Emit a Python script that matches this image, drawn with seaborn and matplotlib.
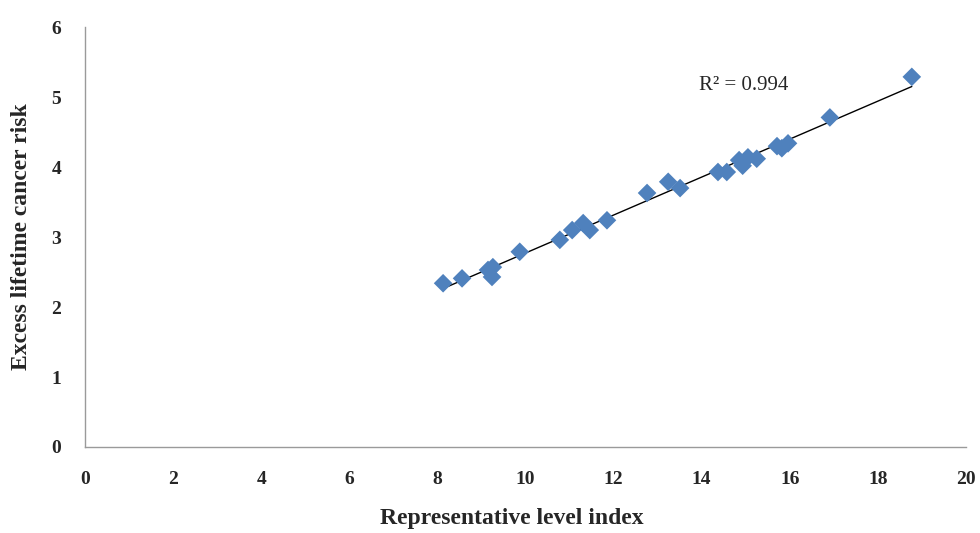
import numpy as np
import pandas as pd
import matplotlib
matplotlib.use("Agg")
import matplotlib.pyplot as plt
import seaborn as sns

# Values
level_index = [8.13, 8.56, 9.15, 9.24, 9.26, 9.87, 10.78, 11.06, 11.31, 11.46, 11.85,
               12.76, 13.24, 13.51, 14.37, 14.57, 14.85, 14.93, 15.05, 15.25,
               15.71, 15.82, 15.96, 16.91, 18.77]
cancer_risk = [2.34, 2.41, 2.53, 2.43, 2.57, 2.79, 2.96, 3.10, 3.20, 3.10, 3.24,
               3.63, 3.79, 3.70, 3.93, 3.93, 4.10, 4.02, 4.14, 4.12,
               4.30, 4.27, 4.34, 4.71, 5.29]
x_ticks = [0, 2, 4, 6, 8, 10, 12, 14, 16, 18, 20]
y_ticks = [0, 1, 2, 3, 4, 5, 6]
r2_label = "R² = 0.994"

df = pd.DataFrame({"x": level_index, "y": cancer_risk})

sns.set_style("white")
plt.rcParams['font.family'] = ['Liberation Serif', 'DejaVu Serif']

fig = plt.figure(figsize=(9.8, 5.33), dpi=100)
ax = fig.add_axes([0.0867, 0.1614, 0.899, 0.7876])

# trend line (linear fit between min and max x)
sns.regplot(data=df, x="x", y="y", ci=None, scatter=False, truncate=True,
            line_kws={"color": "black", "lw": 1}, ax=ax)
sns.scatterplot(data=df, x="x", y="y", marker="D", s=90, color="#4F81BD",
                edgecolor="none", ax=ax, zorder=3)

ax.text(14.95, 5.16, r2_label, fontsize=15, ha="center", va="center")

ax.set_xlim(0, 20)
ax.set_ylim(0, 6)
ax.set_xticks(x_ticks)
ax.set_yticks(y_ticks)
ax.tick_params(length=0, labelsize=14)
ax.tick_params(axis="x", pad=17)
ax.tick_params(axis="y", pad=17)
for lab in ax.get_xticklabels() + ax.get_yticklabels():
    lab.set_fontweight("bold")

ax.set_xlabel("Representative level index", fontsize=17, fontweight="bold")
ax.set_ylabel("Excess lifetime cancer risk", fontsize=17, fontweight="bold")
ax.xaxis.set_label_coords(0.484, -0.145)
ax.yaxis.set_label_coords(-0.060, 0.5)

for side in ["top", "right"]:
    ax.spines[side].set_visible(False)
for side in ["left", "bottom"]:
    ax.spines[side].set_color("#9a9a9a")
    ax.spines[side].set_linewidth(1)

fig.savefig("out.png", dpi=100)
